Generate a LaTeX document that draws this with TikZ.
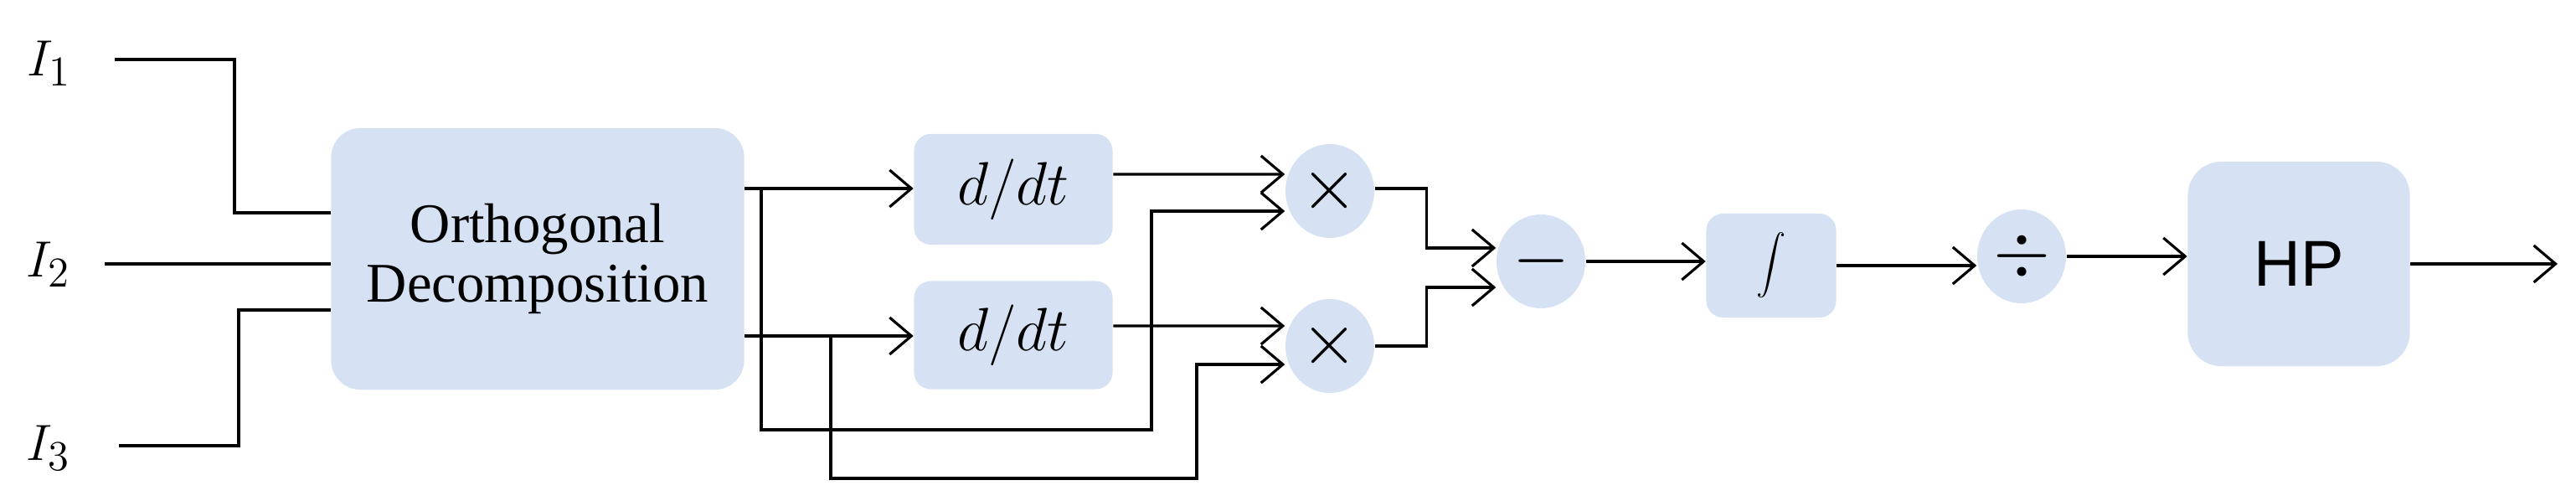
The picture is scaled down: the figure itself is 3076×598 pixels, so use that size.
\documentclass[tikz,border=0pt]{standalone}
\usepackage{fontspec}
\setmainfont{Liberation Serif}
\newfontfamily\hpfont{Liberation Sans}
\usetikzlibrary{positioning, shapes.geometric, arrows.meta}

\begin{document}
\begin{tikzpicture}[
x=0.01cm, y=-0.01cm,
blkbox/.style={rectangle,
  fill=boxblue,
  rounded corners=0.35cm,
  align=center,
  inner sep=0pt,
},
opnode/.style={ellipse,
  fill=boxblue,
  minimum width=1.06cm,
  minimum height=1.12cm,
  inner sep=0pt,
  font=\fontsize{24}{28}\selectfont,
},
wire/.style={line width=0.9pt},
>={Straight Barb[length=2.6mm, width=4.4mm]}
]
\definecolor{boxblue}{HTML}{D6E2F3}
\useasboundingbox (0,0) rectangle (3076,598);
\fontsize{19}{23}\selectfont

% inputs
\node (i1) at (59,76) {$I_1$};
\node (i2) at (58,316) {$I_2$};
\node (i3) at (58,535) {$I_3$};

% blocks
\node[blkbox, minimum width=4.93cm, minimum height=3.12cm] (ortho) at (642,309)
    {Orthogonal\\[-3pt]Decomposition};
\node[blkbox, rounded corners=0.2cm, minimum width=2.37cm, minimum height=1.32cm] (d1) at (1210,226)
    {\fontsize{21}{25}\selectfont$d/dt$};
\node[blkbox, rounded corners=0.2cm, minimum width=2.37cm, minimum height=1.29cm] (d2) at (1210,400)
    {\fontsize{21}{25}\selectfont$d/dt$};
\node[opnode] (m1) at (1588,228) {$\times$};
\node[opnode] (m2) at (1588,413) {$\times$};
\node[opnode] (sub) at (1840,312) {$-$};
\node[blkbox, rounded corners=0.2cm, minimum width=1.55cm, minimum height=1.24cm] (int) at (2115,317)
    {$\displaystyle\int$};
\node[opnode] (div) at (2414,306) {$\div$};
\node[blkbox, rounded corners=0.4cm, minimum width=2.65cm, minimum height=2.44cm] (hp) at (2745,315)
    {\hpfont\fontsize{22}{26}\selectfont HP};

% junctions
\coordinate (s1) at (137,71);
\coordinate (s2) at (125,315);
\coordinate (s3) at (142,532);
\coordinate (k1) at (280,254);
\coordinate (k3) at (285,370);
\coordinate (b1) at (909,225);
\coordinate (b2) at (992,401);
\coordinate (c1) at (1375,513);
\coordinate (c2) at (1429,571);
\coordinate (out) at (3054,315);

% input wires
\draw[wire] (s1) -| (k1) -- (k1 -| ortho.west);
\draw[wire] (s2) -- (s2 -| ortho.west);
\draw[wire] (s3) -| (k3) -- (k3 -| ortho.west);

% decomposition outputs
\draw[wire,->] (b1 -| ortho.east) -- (b1 -| d1.west);
\draw[wire,->] (b2 -| ortho.east) -- (b2 -| d2.west);
\draw[wire,->] (b1) |- (c1) |- ([yshift=-0.24cm]m1.west);
\draw[wire,->] (b2) |- (c2) |- ([yshift=-0.22cm]m2.west);
\draw[wire,->] ([yshift=0.18cm]d1.east) -- ([yshift=0.2cm]m1.west);
\draw[wire,->] ([yshift=0.11cm]d2.east) -- ([yshift=0.24cm]m2.west);

% products to difference
\draw[wire,->] ([yshift=0.03cm]m1.east) -- ++(0.62cm,0) |- ([yshift=0.16cm]sub.west);
\draw[wire,->] (m2.east) -- ++(0.62cm,0) |- ([yshift=-0.31cm]sub.west);

% chain
\draw[wire,->] (sub.east) -- (sub.east -| int.west);
\draw[wire,->] (int.east) -- (int.east -| div.west);
\draw[wire,->] (div.east) -- (div.east -| hp.west);
\draw[wire,->] (hp.east) -- (out);
\end{tikzpicture}
\end{document}
